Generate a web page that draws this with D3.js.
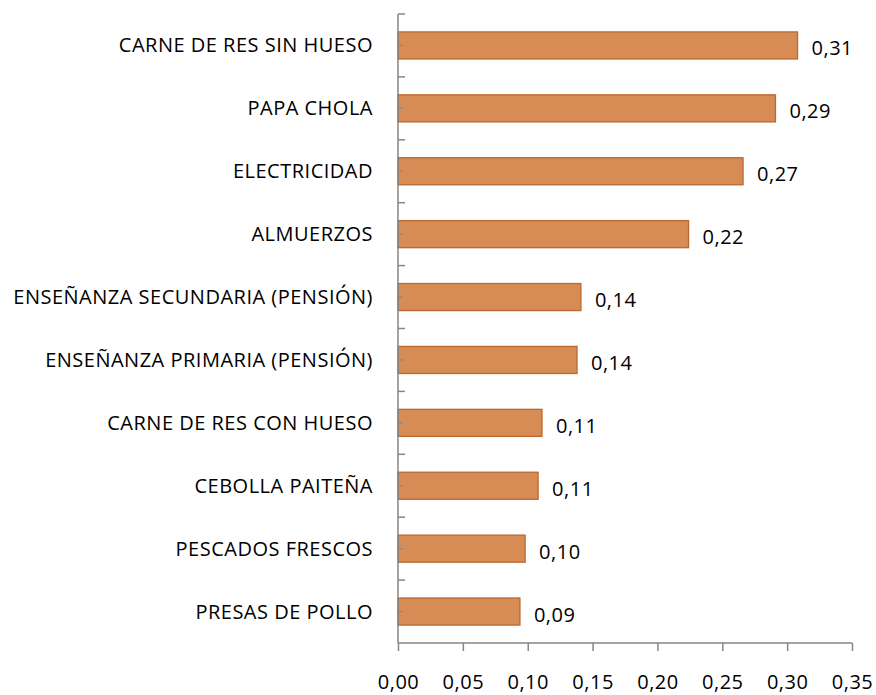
<!DOCTYPE html>
<html lang="es">
  <head>
    <meta charset="UTF-8" />
    <title>Barras</title>
    <script src="https://d3js.org/d3.v7.min.js"></script>
    <style>
      body { margin: 0; background: #fff; }
      text { font-family: "Open Sans", sans-serif; fill: #000; letter-spacing: 0.5px; }
    </style>
  </head>
  <body>
    <svg width="876" height="695"></svg>
    <script>
      // datos
      var categories = [
        "CARNE DE RES SIN HUESO",
        "PAPA CHOLA",
        "ELECTRICIDAD",
        "ALMUERZOS",
        "ENSEÑANZA SECUNDARIA (PENSIÓN)",
        "ENSEÑANZA PRIMARIA (PENSIÓN)",
        "CARNE DE RES CON HUESO",
        "CEBOLLA PAITEÑA",
        "PESCADOS FRESCOS",
        "PRESAS DE POLLO"
      ];
      var values = [0.308, 0.291, 0.266, 0.224, 0.141, 0.138, 0.111, 0.108, 0.098, 0.094];
      var xTicks = [0, 0.05, 0.1, 0.15, 0.2, 0.25, 0.3, 0.35];

      var marge = { top: 14, left: 398, right: 24, bottom: 52 };
      var svg = d3.select("svg");
      var width = 876 - marge.left - marge.right;
      var height = 695 - marge.top - marge.bottom;
      var fontSize = "20px";

      var g = svg.append("g").attr("transform", `translate(${marge.left},${marge.top})`);

      var x = d3.scaleLinear().domain([0, 0.35]).range([0, width]);
      var y = d3.scaleBand().domain(categories).range([0, height]).paddingInner(0.57).paddingOuter(0.285);
      var yBand = d3.scaleBand().domain(categories).range([0, height]);

      var fmt = function (d) { return d3.format(".2f")(d).replace(".", ","); };
      var axisColor = "#868686";

      // barras
      g.selectAll("rect")
        .data(values)
        .enter()
        .append("rect")
        .attr("x", 0)
        .attr("y", (d, i) => y(categories[i]))
        .attr("width", d => x(d))
        .attr("height", y.bandwidth())
        .attr("fill", "#D78B55")
        .attr("stroke", "#BA682F")
        .attr("stroke-width", 1.3);

      // etiquetas de valor
      g.selectAll(".val")
        .data(values)
        .enter()
        .append("text")
        .attr("class", "val")
        .attr("x", d => x(d) + 14)
        .attr("y", (d, i) => y(categories[i]) + y.bandwidth() / 2 + 3)
        .attr("dy", "0.35em")
        .style("font-size", fontSize)
        .text(fmt);

      // eje y
      g.append("line")
        .attr("x1", 0).attr("x2", 0)
        .attr("y1", 0).attr("y2", height)
        .attr("stroke", axisColor).attr("stroke-width", 1.5);

      var boundaries = categories.map(c => yBand(c));
      g.selectAll(".ytick")
        .data(boundaries)
        .enter()
        .append("line")
        .attr("x1", 0).attr("x2", 7)
        .attr("y1", d => d).attr("y2", d => d)
        .attr("stroke", axisColor).attr("stroke-width", 1.5);

      g.selectAll(".ytick2")
        .data(categories)
        .enter()
        .append("line")
        .attr("x1", 0).attr("x2", 5)
        .attr("y1", d => yBand(d) + yBand.bandwidth() / 2)
        .attr("y2", d => yBand(d) + yBand.bandwidth() / 2)
        .attr("stroke", axisColor).attr("stroke-width", 1.2);

      g.selectAll(".cat")
        .data(categories)
        .enter()
        .append("text")
        .attr("class", "cat")
        .attr("x", -25)
        .attr("y", d => yBand(d) + yBand.bandwidth() / 2)
        .attr("dy", "0.35em")
        .attr("text-anchor", "end")
        .style("font-size", fontSize)
        .text(d => d);

      // eje x
      var xAxis = d3.axisBottom(x).tickValues(xTicks).tickSize(8).tickPadding(24).tickFormat(fmt);
      var ax = g.append("g")
        .attr("transform", `translate(0,${height})`)
        .call(xAxis);
      ax.select(".domain").attr("stroke", axisColor).attr("stroke-width", 1.5).attr("d", `M0,0H${width}`);
      ax.selectAll(".tick line").attr("stroke", axisColor).attr("stroke-width", 1.5);
      ax.selectAll(".tick text").style("font-size", fontSize).style("font-family", "Open Sans, sans-serif").attr("fill", "#000");
    </script>
  </body>
</html>
